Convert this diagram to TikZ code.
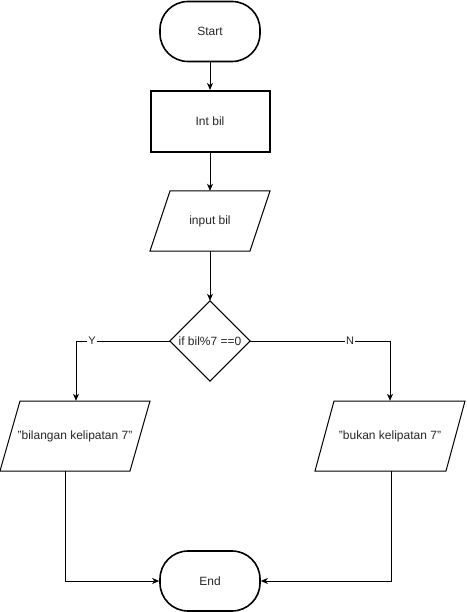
\documentclass[tikz,border=0pt]{standalone}
\usepackage{fontspec}
\setmainfont{Liberation Sans}
\usetikzlibrary{arrows.meta}
\begin{document}
\begin{tikzpicture}[x=1pt,y=-1pt,
  every node/.style={font=\fontsize{12}{14}\selectfont, text=black!85},
  term/.style={draw, line width=1.6pt, rounded corners=28pt, minimum width=100pt, minimum height=60pt, inner sep=0pt},
  procbox/.style={draw, line width=2pt, minimum width=119pt, minimum height=61pt, inner sep=0pt},
  iobox/.style={draw=none, inner sep=0pt},
  decbox/.style={draw=none, minimum width=80pt, minimum height=80pt, inner sep=0pt},
  para/.style={line width=1pt, line join=miter},
  conn/.style={line width=1pt, -{Stealth[length=7pt,width=6pt,inset=2pt]}},
  lbl/.style={fill=white, inner sep=1pt, font=\fontsize{11}{12}\selectfont}
]
\useasboundingbox (0,0) rectangle (466,612);
% nodes
\node[term] (start) at (210,31.5) {Start};
\node[procbox] (int) at (210,121.5) {Int bil};
\node[iobox, minimum width=120pt, minimum height=60pt] (inp) at (210,221) {input bil};
\node[decbox] (dec) at (210,341) {};
\node at (210,341) {if bil\%7 ==0};
\node[iobox, minimum width=150pt, minimum height=70pt] (yes) at (75,436) {"bilangan kelipatan 7"};
\node[iobox, minimum width=150pt, minimum height=70pt] (no) at (390,436) {"bukan kelipatan 7"};
\node[term] (end) at (210,581) {End};
% shapes
\draw[para] (170,191) -- (270,191) -- (250,251) -- (150,251) -- cycle;
\draw[para] (dec.north) -- (dec.east) -- (dec.south) -- (dec.west) -- cycle;
\draw[para] (20,401) -- (150,401) -- (130,471) -- (0,471) -- cycle;
\draw[para] (334,401) -- (465,401) -- (446,471) -- (315,471) -- cycle;
% connectors
\draw[conn] (start.south) -- (int.north);
\draw[conn] (int.south) -- (inp.north);
\draw[conn] (inp.south) -- (dec.north);
\draw[conn] (dec.west) -| ([xshift=1pt]yes.north) node[lbl, pos=0.415] {Y};
\draw[conn] (dec.east) -| (no.north) node[lbl, pos=0.357] {N};
\draw[conn] ([xshift=-10pt]yes.south) |- (end.west);
\draw[conn] ([xshift=1pt]no.south) |- (end.east);
\end{tikzpicture}
\end{document}
